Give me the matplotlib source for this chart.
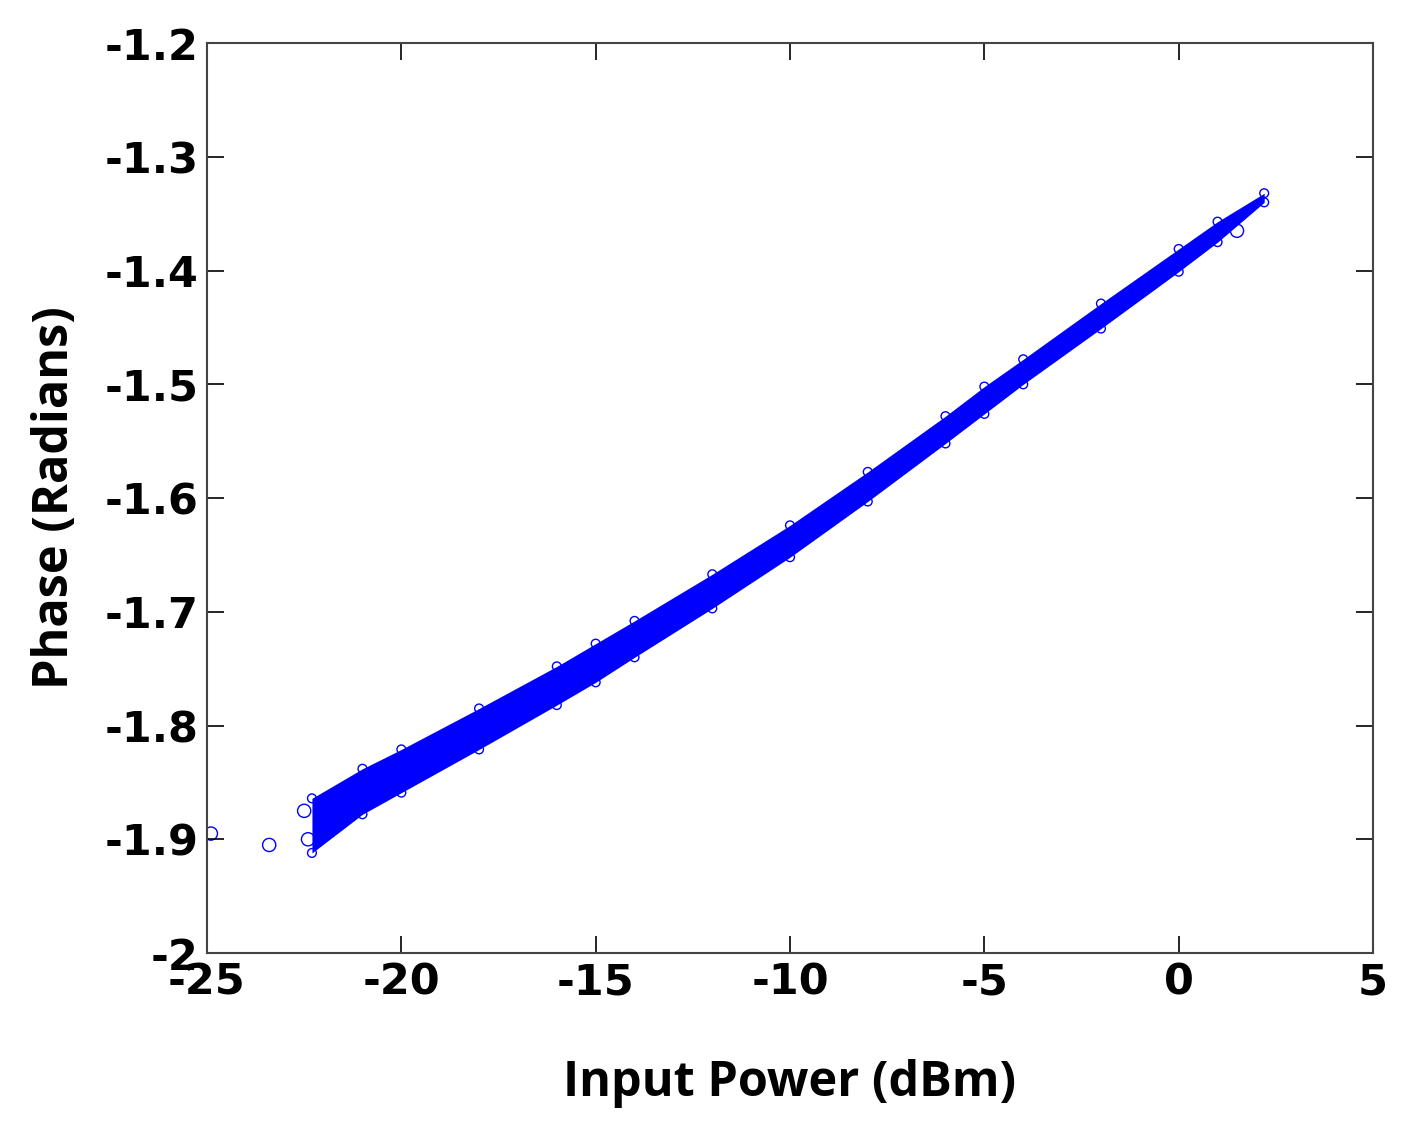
import matplotlib
matplotlib.use("Agg")
import matplotlib.pyplot as plt
import numpy as np

# band centerline
band_x = [-22.3, -21, -20, -18, -16, -15, -14, -12, -10, -8, -6, -5, -4, -2, 0, 1, 2.2]
band_y = [-1.888, -1.858, -1.840, -1.803, -1.765, -1.745, -1.724, -1.682, -1.638, -1.590, -1.540, -1.514, -1.489, -1.440, -1.391, -1.366, -1.336]
band_hw = [0.024, 0.020, 0.019, 0.018, 0.017, 0.017, 0.016, 0.015, 0.014, 0.013, 0.012, 0.012, 0.011, 0.011, 0.010, 0.009, 0.004]
out_x = [-24.9, -23.4, -22.5, -22.4, 1.5]
out_y = [-1.895, -1.905, -1.875, -1.900, -1.365]

fig = plt.figure(figsize=(14.12, 11.34), dpi=100)
ax = fig.add_axes([0.1466, 0.1596, 0.8258, 0.8024])
bx, by, bh = np.array(band_x), np.array(band_y), np.array(band_hw)
ax.fill_between(bx, by - bh, by + bh, color='#0000ff', lw=0)
ax.scatter(bx, by + bh, s=40, facecolors='none', edgecolors='#0000ff', lw=1)
ax.scatter(bx, by - bh, s=40, facecolors='none', edgecolors='#0000ff', lw=1)
ax.scatter(out_x, out_y, s=90, facecolors='none', edgecolors='#0000ff', lw=1)

ax.set_xlim(-25, 5)
ax.set_ylim(-2, -1.2)
ax.set_xticks([-25, -20, -15, -10, -5, 0, 5])
ax.set_xticklabels(['-25', '-20', '-15', '-10', '-5', '0', '5'])
ax.set_yticks([-2, -1.9, -1.8, -1.7, -1.6, -1.5, -1.4, -1.3, -1.2])
ax.set_yticklabels(['-2', '-1.9', '-1.8', '-1.7', '-1.6', '-1.5', '-1.4', '-1.3', '-1.2'])
ax.tick_params(direction='in', length=12, width=1.2, top=True, right=True, labelsize=31, pad=6)
for lab in ax.get_xticklabels() + ax.get_yticklabels():
    lab.set_fontweight('bold')
for s in ax.spines.values():
    s.set_linewidth(1.5)
    s.set_color('#444444')
ax.set_xlabel('Input Power (dBm)', fontsize=35, fontweight='bold', family='Open Sans', labelpad=40)
ax.set_ylabel('Phase (Radians)', fontsize=35, fontweight='bold', family='Open Sans', labelpad=18)
fig.savefig('out.png', dpi=100)
